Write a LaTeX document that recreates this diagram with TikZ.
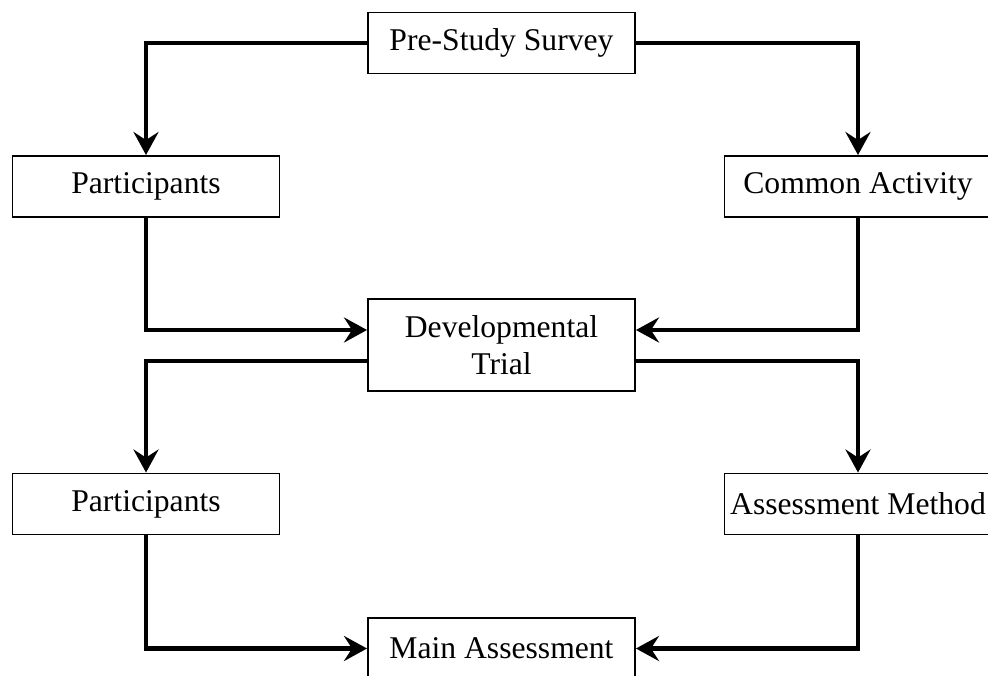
\documentclass[tikz,border=0pt]{standalone}
\usepackage{fontspec}
\setmainfont{Liberation Serif}
\usepackage{tikz}
\usetikzlibrary{arrows.meta, positioning}

\begin{document}
\begin{tikzpicture}[
    box/.style={rectangle, draw=black, line width=1.1pt, fill=white, minimum width=5.34cm, minimum height=1.22cm, align=center, inner sep=0pt, font=\fontsize{18}{21}\selectfont},
    arrow/.style={-{Stealth[length=4.6mm, width=5mm, inset=1.6mm]}, line width=2.3pt},
    link/.style={line width=2.3pt}
]
\useasboundingbox (0,0) rectangle (19.76,-13.5);

% Boxes
\node[box] (survey) at (10.03, -0.86) {Pre-Study Survey};
\node[box] (part1) at (2.92, -3.73) {Participants};
\node[box] (common) at (17.16, -3.73) {Common Activity};
\node[box, minimum height=1.84cm] (trial) at (10.03, -6.9) {Developmental\\Trial};
\node[box] (part2) at (2.92, -10.08) {Participants};
\node[box] (method) at (17.16, -10.08) {Assessment Method};
\node[box] (main) at (10.03, -12.97) {Main Assessment};

% Top half
\draw[arrow] (survey.west) -| (part1.north);
\draw[arrow] (survey.east) -| (common.north);
\draw[arrow] (part1.south) |- ([yshift=0.3cm]trial.west);
\draw[arrow] (common.south) |- ([yshift=0.3cm]trial.east);

% Bottom half
\draw[arrow] ([yshift=-0.32cm]trial.west) -| (part2.north);
\draw[arrow] ([yshift=-0.32cm]trial.east) -| (method.north);
\draw[arrow] (part2.south) |- (main.west);
\draw[arrow] (method.south) |- (main.east);

\end{tikzpicture}
\end{document}
